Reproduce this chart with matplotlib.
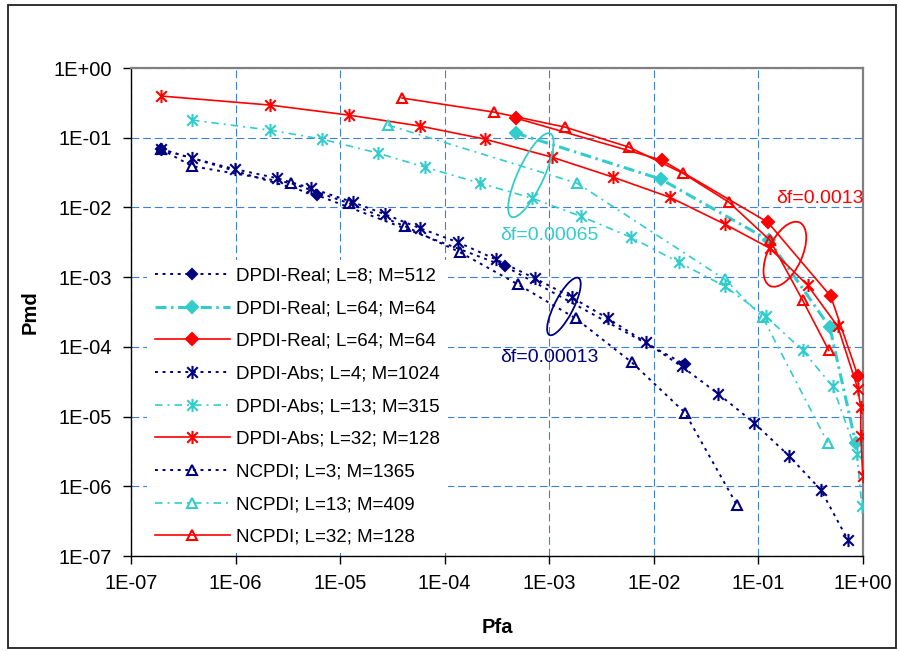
import numpy as np
import matplotlib
matplotlib.use("Agg")
import matplotlib.pyplot as plt
import matplotlib.ticker as mticker
import matplotlib.transforms as mtransforms
from matplotlib.path import Path
from matplotlib.patches import Ellipse, Rectangle

plt.rcParams['font.family'] = ['Liberation Sans', 'DejaVu Sans']

# ---------------- data ----------------
labels = ["DPDI-Real; L=8; M=512", "DPDI-Real; L=64; M=64", "DPDI-Real; L=64; M=64",
          "DPDI-Abs; L=4; M=1024", "DPDI-Abs; L=13; M=315", "DPDI-Abs; L=32; M=128",
          "NCPDI; L=3; M=1365", "NCPDI; L=13; M=409", "NCPDI; L=32; M=128"]

real8_x = [1.94e-7, 6.0e-6, 3.77e-4, 1.98e-2]
real8_y = [6.86e-2, 1.50e-2, 1.43e-3, 5.6e-5]

real64c_x = [4.80e-4, 1.17e-2, 0.126, 0.482, 0.85]
real64c_y = [0.1165, 2.54e-2, 3.38e-3, 1.90e-4, 4.2e-6]

real64r_x = [4.80e-4, 1.19e-2, 0.123, 0.492, 0.891]
real64r_y = [0.191, 4.77e-2, 6.13e-3, 5.30e-4, 3.88e-5]

abs4_x = [1.94e-7, 3.83e-7, 9.86e-7, 2.49e-6, 5.26e-6, 1.32e-5, 2.68e-5, 5.80e-5, 1.34e-4,
          3.08e-4, 7.28e-4, 1.64e-3, 3.63e-3, 8.37e-3, 1.85e-2, 4.09e-2, 9.03e-2, 0.195,
          0.395, 0.716]
abs4_y = [6.86e-2, 5.09e-2, 3.54e-2, 2.63e-2, 1.89e-2, 1.19e-2, 7.98e-3, 5.03e-3, 3.16e-3,
          1.80e-3, 9.6e-4, 5.13e-4, 2.56e-4, 1.16e-4, 5.23e-5, 2.14e-5, 8.2e-6, 2.75e-6,
          8.9e-7, 1.71e-7]

abs13_x = [3.83e-7, 2.13e-6, 6.70e-6, 2.30e-5, 6.47e-5, 2.17e-4, 6.82e-4, 2.00e-3, 6.03e-3,
           1.73e-2, 4.78e-2, 0.118, 0.265, 0.514, 0.873, 0.975]
abs13_y = [0.179, 0.1285, 9.55e-2, 6.01e-2, 3.78e-2, 2.23e-2, 1.36e-2, 7.47e-3, 3.73e-3,
           1.63e-3, 7.38e-4, 2.73e-4, 8.87e-5, 2.70e-5, 2.94e-6, 5.26e-7]

abs32_x = [1.94e-7, 2.13e-6, 1.21e-5, 5.80e-5, 2.42e-4, 1.06e-3, 4.06e-3, 1.42e-2, 4.78e-2,
           0.129, 0.296, 0.574, 0.891, 0.953, 0.953, 0.995]
abs32_y = [0.396, 0.294, 0.211, 0.147, 9.55e-2, 5.26e-2, 2.72e-2, 1.40e-2, 5.74e-3,
           2.59e-3, 7.62e-4, 1.96e-4, 2.52e-5, 1.35e-5, 5.33e-6, 1.42e-6]

nc3_x = [1.94e-7, 3.83e-7, 3.39e-6, 1.21e-5, 4.17e-5, 1.40e-4, 5.01e-4, 1.79e-3, 6.17e-3,
         1.98e-2, 6.21e-2]
nc3_y = [6.86e-2, 3.91e-2, 2.23e-2, 1.15e-2, 5.37e-3, 2.27e-3, 7.88e-4, 2.56e-4, 5.97e-5,
         1.14e-5, 5.44e-7]

nc13_x = [2.86e-5, 1.84e-3, 4.78e-2, 0.110, 0.460]
nc13_y = [0.152, 2.23e-2, 9.3e-4, 2.64e-4, 4.23e-6]

nc32_x = [3.90e-5, 2.95e-4, 1.41e-3, 5.77e-3, 1.89e-2, 5.21e-2, 0.129, 0.265, 0.471]
nc32_y = [0.371, 0.233, 0.142, 7.33e-2, 3.10e-2, 1.19e-2, 3.38e-3, 4.64e-4, 8.87e-5]

xticks = [1e-7, 1e-6, 1e-5, 1e-4, 1e-3, 1e-2, 1e-1, 1e0]
yticks = [1e-7, 1e-6, 1e-5, 1e-4, 1e-3, 1e-2, 1e-1, 1e0]

# annotations: (text, x, y, colour)
notes = [("\u03b4f=0.00065", 1.01e-3, 3.99e-3, "#33CCCC"),
         ("\u03b4f=0.00013", 1.01e-3, 7.05e-5, "#000080"),
         ("\u03b4f=0.0013", 0.386, 1.36e-2, "#FF0000")]
# ellipses: centre x, centre y, width px, height px, angle, colour
ellipses = [(6.67e-4, 2.90e-2, 92, 26, 65, "#33CCCC"),
            (1.38e-3, 3.80e-4, 64, 19, 63, "#000080"),
            (0.179, 2.13e-3, 70, 34, 65, "#FF0000")]

# ---------------- styling ----------------
NAVY = "#000080"
CYAN = "#33CCCC"
RED = "#FF0000"

vs = [(0, -1), (0, 1), (-0.8, -0.8), (0.8, 0.8), (-0.8, 0.8), (0.8, -0.8)]
cs = [Path.MOVETO, Path.LINETO] * 3
STAR = Path(vs, cs)

dot = (0, (1.5, 2.4))
dashdot_thick = (0, (3.6, 1.5, 0.8, 1.5))
dashdot_thin = (0, (4.5, 3.0, 1.2, 3.0))

fig = plt.figure(figsize=(8.99, 6.51), dpi=100)
ax = fig.add_axes([131/899, 1-556/651, 732/899, 488/651])

series = [
    (real8_x, real8_y, NAVY, dot, 1.4, 'D', 5.5, NAVY),
    (real64c_x, real64c_y, CYAN, dashdot_thick, 2.2, 'D', 6, CYAN),
    (real64r_x, real64r_y, RED, '-', 1.2, 'D', 6, RED),
    (abs4_x, abs4_y, NAVY, dot, 1.4, STAR, 9.5, 'none'),
    (abs13_x, abs13_y, CYAN, dashdot_thin, 1.2, STAR, 9.5, 'none'),
    (abs32_x, abs32_y, RED, '-', 1.2, STAR, 9.5, 'none'),
    (nc3_x, nc3_y, NAVY, dot, 1.4, '^', 7.5, 'none'),
    (nc13_x, nc13_y, CYAN, dashdot_thin, 1.2, '^', 7.5, 'none'),
    (nc32_x, nc32_y, RED, '-', 1.2, '^', 7.5, 'none'),
]
for (xs, ys, col, ls, lw, mk, ms, mfc), lab in zip(series, labels):
    ax.plot(xs, ys, color=col, linestyle=ls, linewidth=lw, marker=mk, markersize=ms,
            markerfacecolor=mfc, markeredgecolor=col, markeredgewidth=1.5, label=lab,
            zorder=3)

ax.set_xscale('log')
ax.set_yscale('log')
ax.set_xlim(1e-7, 1)
ax.set_ylim(1e-7, 1)
ax.set_xticks(xticks)
ax.set_yticks(yticks)
fmt = mticker.FuncFormatter(lambda v, p: "1E%+03d" % int(round(np.log10(v))))
ax.xaxis.set_major_formatter(fmt)
ax.yaxis.set_major_formatter(fmt)
ax.xaxis.set_minor_locator(mticker.NullLocator())
ax.yaxis.set_minor_locator(mticker.NullLocator())
ax.tick_params(axis='both', which='major', direction='out', length=6, width=1,
               labelsize=14.5, colors='black')
ax.tick_params(axis='x', pad=7)
ax.tick_params(axis='y', pad=8)

ax.grid(True, which='major', color='#3F7FD6', linestyle=(0, (7, 3.5)), linewidth=0.8)
ax.set_axisbelow(True)

for s in ['top', 'right']:
    ax.spines[s].set_color('#808080')
    ax.spines[s].set_linewidth(1.6)
for s in ['left', 'bottom']:
    ax.spines[s].set_color('black')
    ax.spines[s].set_linewidth(1.0)

ax.set_xlabel("Pfa", fontsize=14.5, fontweight='bold', labelpad=18)
ax.set_ylabel("Pmd", fontsize=14.5, fontweight='bold', labelpad=10)

leg = ax.legend(loc='upper left', bbox_to_anchor=(0.022, 0.607), fontsize=13.5,
                frameon=True, fancybox=False, edgecolor='none', facecolor='white',
                framealpha=1, handlelength=4.0, handletextpad=0.35, labelspacing=0.83,
                borderpad=0.4, borderaxespad=0, numpoints=1)
leg.set_zorder(5)

for txt, x, y, col in notes:
    ax.text(x, y, txt, color=col, fontsize=14, ha='center', va='center', zorder=6)

for cx, cy, w, h, ang, col in ellipses:
    tr = fig.dpi_scale_trans + mtransforms.ScaledTranslation(cx, cy, ax.transData)
    e = Ellipse((0, 0), w/100, h/100, angle=ang, transform=tr, fill=False,
                edgecolor=col, linewidth=1.3, zorder=6)
    ax.add_artist(e)

# outer chart border
fig.patches.append(Rectangle((8/899, 3/651), 888/899, 643/651, transform=fig.transFigure,
                             fill=False, edgecolor='#202020', linewidth=1.3))

fig.savefig("out.png", dpi=100)
